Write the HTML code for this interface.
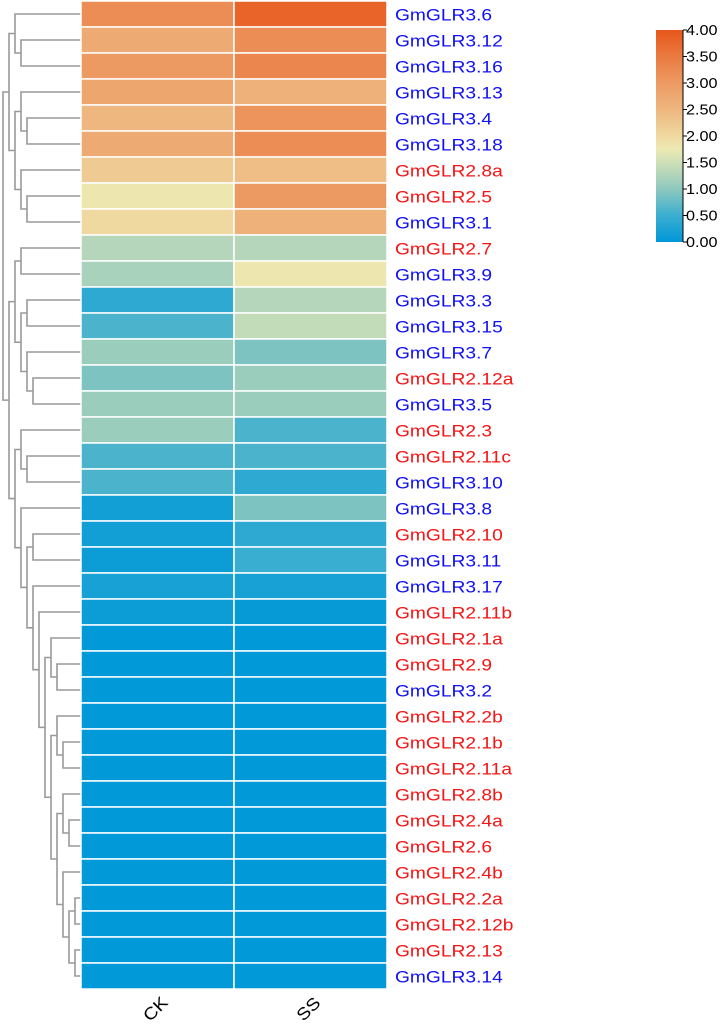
<!DOCTYPE html>
<html><head><meta charset="utf-8"><style>
html,body{margin:0;padding:0;background:#fff;}
svg{display:block;font-family:"Liberation Sans",Arial,sans-serif;}
</style></head><body>
<svg id="chart" width="724" height="1025" viewBox="0 0 724 1025">
<defs>
<linearGradient id="cbar" x1="0" y1="1" x2="0" y2="0">
<stop offset="0" stop-color="#0098d8"/><stop offset="0.125" stop-color="#3aaed0"/>
<stop offset="0.25" stop-color="#8ec8be"/><stop offset="0.375" stop-color="#cfe0b8"/>
<stop offset="0.4375" stop-color="#ece9b3"/><stop offset="0.5" stop-color="#efd9a0"/>
<stop offset="0.625" stop-color="#eeb77f"/><stop offset="0.75" stop-color="#ec9a62"/>
<stop offset="0.875" stop-color="#ea7a40"/><stop offset="1" stop-color="#e8561a"/>
</linearGradient>
</defs>
<g id="dendro"></g>
<g id="cells"></g>
<g id="rowlabels"></g>
<g id="collabels"></g>
<g id="legend"></g>
</svg>
<script>
const genes=["GmGLR3.6","GmGLR3.12","GmGLR3.16","GmGLR3.13","GmGLR3.4","GmGLR3.18","GmGLR2.8a","GmGLR2.5","GmGLR3.1","GmGLR2.7","GmGLR3.9","GmGLR3.3","GmGLR3.15","GmGLR3.7","GmGLR2.12a","GmGLR3.5","GmGLR2.3","GmGLR2.11c","GmGLR3.10","GmGLR3.8","GmGLR2.10","GmGLR3.11","GmGLR3.17","GmGLR2.11b","GmGLR2.1a","GmGLR2.9","GmGLR3.2","GmGLR2.2b","GmGLR2.1b","GmGLR2.11a","GmGLR2.8b","GmGLR2.4a","GmGLR2.6","GmGLR2.4b","GmGLR2.2a","GmGLR2.12b","GmGLR2.13","GmGLR3.14"];
const conditions=["CK","SS"];
const ckValues=[3.2,2.7,3.0,2.8,2.5,2.7,2.2,1.8,2.0,1.3,1.2,0.4,0.6,1.1,0.9,1.1,1.1,0.6,0.6,0.15,0.15,0.1,0.2,0.1,0.02,0.02,0.02,0.02,0.02,0.02,0.02,0.02,0.02,0.02,0.02,0.02,0.02,0.02];
const ssValues=[3.8,3.2,3.3,2.6,3.1,3.2,2.4,3.0,2.6,1.3,1.8,1.3,1.4,0.9,1.1,1.1,0.6,0.6,0.4,0.9,0.4,0.5,0.2,0.05,0.02,0.02,0.02,0.02,0.02,0.02,0.02,0.02,0.02,0.02,0.02,0.02,0.02,0.02];
const geneGroup=["3","3","3","3","3","3","2","2","3","2","3","3","3","3","2","3","2","2","3","3","2","3","3","2","2","2","3","2","2","2","2","2","2","2","2","2","2","3"];
const legendTicks=[0,0.5,1,1.5,2,2.5,3,3.5,4];
// dendrogram: [height, left, right]; leaves are row indices
const mkNode=(h,a,b)=>({h:h,c:[a,b]});
const N=mkNode;
const tree=N(78,
 N(72, N(66,0,N(60,1,2)), N(66, N(60,3,N(54,4,5)), N(60,6,N(54,7,8)))),
 N(72, N(66, N(60,9,10), N(60, N(54,11,12), N(54,13,N(48,14,15)))),
  N(66, N(60,16,N(54,17,18)),
   N(60,19, N(54, N(48,20,21), N(48,22, N(42,23, N(36, N(30,24,N(24,25,26)),
     N(30, N(24,27,N(18,28,29)), N(24, N(18,30,N(12,31,32)), N(18,33,N(12,N(6,34,35),N(6,36,37)))))))))))));

const SVGNS="http://www.w3.org/2000/svg";
const gridLeft=81,gridMid=234,gridRight=387,gridTop=1,rowH=26;
const colX=[gridLeft,gridMid],colW=[gridMid-gridLeft,gridRight-gridMid];
const yRow=i=>gridTop+rowH*i;
const xDist=h=>gridLeft-h;
const cbTop=30,cbBot=242,cbX=656,cbW=27;
const yLeg=v=>cbBot-(v/4)*(cbBot-cbTop);
const SX=1.13;
const stops=[[0,[0,152,216]],[0.5,[58,174,208]],[1,[142,200,190]],[1.5,[207,224,184]],[1.75,[236,233,179]],[2,[239,217,160]],[2.5,[238,183,127]],[3,[236,154,98]],[3.5,[234,122,64]],[4,[232,86,26]]];
function colorOf(v){v=Math.max(0,Math.min(4,v));for(let i=1;i<stops.length;i++){if(v<=stops[i][0]){const a=stops[i-1],b=stops[i],t=(v-a[0])/(b[0]-a[0]);const c=a[1].map((x,k)=>Math.round(x+(b[1][k]-x)*t));return "rgb("+c.join(",")+")";}}return "rgb(232,86,26)";}
function mk(tag,attrs,parent){const e=document.createElementNS(SVGNS,tag);for(const k in attrs)e.setAttribute(k,attrs[k]);parent.appendChild(e);return e;}

const cellsG=document.getElementById('cells');
const series=[ckValues,ssValues];
for(let c=0;c<2;c++){for(let i=0;i<genes.length;i++){
 const r=mk('rect',{x:colX[c],y:yRow(i),width:colW[c],height:rowH,fill:colorOf(series[c][i]),stroke:'#fff','stroke-width':1.5},cellsG);
 
 
}}
const rl=document.getElementById('rowlabels');
genes.forEach((g,i)=>{const t=mk('text',{x:395/SX,y:yRow(i)+rowH/2+6.5,'font-size':17,transform:'scale('+SX+',1)',fill:geneGroup[i]==="3"?"#1010f5":"#f51515"},rl);t.textContent=g;
 
 });
const cl=document.getElementById('collabels');
conditions.forEach((c,k)=>{const cx=colX[k]+colW[k]/2+2,cy=1013;const t=mk('text',{x:cx,y:cy,'font-size':17,fill:'#000','text-anchor':'middle',transform:'rotate(-45 '+cx+' '+cy+') translate('+cx+',0) scale('+SX+',1) translate('+(-cx)+',0)'},cl);t.textContent=c;
 
 });
const dg=document.getElementById('dendro');
function drawNode(n){ if(typeof n==='number')return {y:yRow(n)+rowH/2,x:gridLeft};
 const a=drawNode(n.c[0]),b=drawNode(n.c[1]),x=xDist(n.h);
 const p=mk('path',{d:'M'+a.x+','+a.y+'H'+x+'V'+b.y+'H'+b.x,fill:'none',stroke:'#999','stroke-width':1.6},dg);
 
 
 return {y:(a.y+b.y)/2,x:x};}
drawNode(tree);
const lg=document.getElementById('legend');
const bar=mk('rect',{x:cbX,y:cbTop,width:cbW,height:cbBot-cbTop,fill:'url(#cbar)'},lg);


mk('line',{x1:cbX+cbW,y1:cbTop,x2:cbX+cbW,y2:cbBot,stroke:'#000','stroke-width':1},lg);
legendTicks.forEach(v=>{const y=yLeg(v);mk('line',{x1:cbX+cbW,y1:y,x2:cbX+cbW+4,y2:y,stroke:'#000','stroke-width':1},lg);
 const t=mk('text',{x:686/1.08,y:y+5,'font-size':15,transform:'scale(1.08,1)',fill:'#000'},lg);t.textContent=v.toFixed(2);
 
 });
</script>
</body></html>
